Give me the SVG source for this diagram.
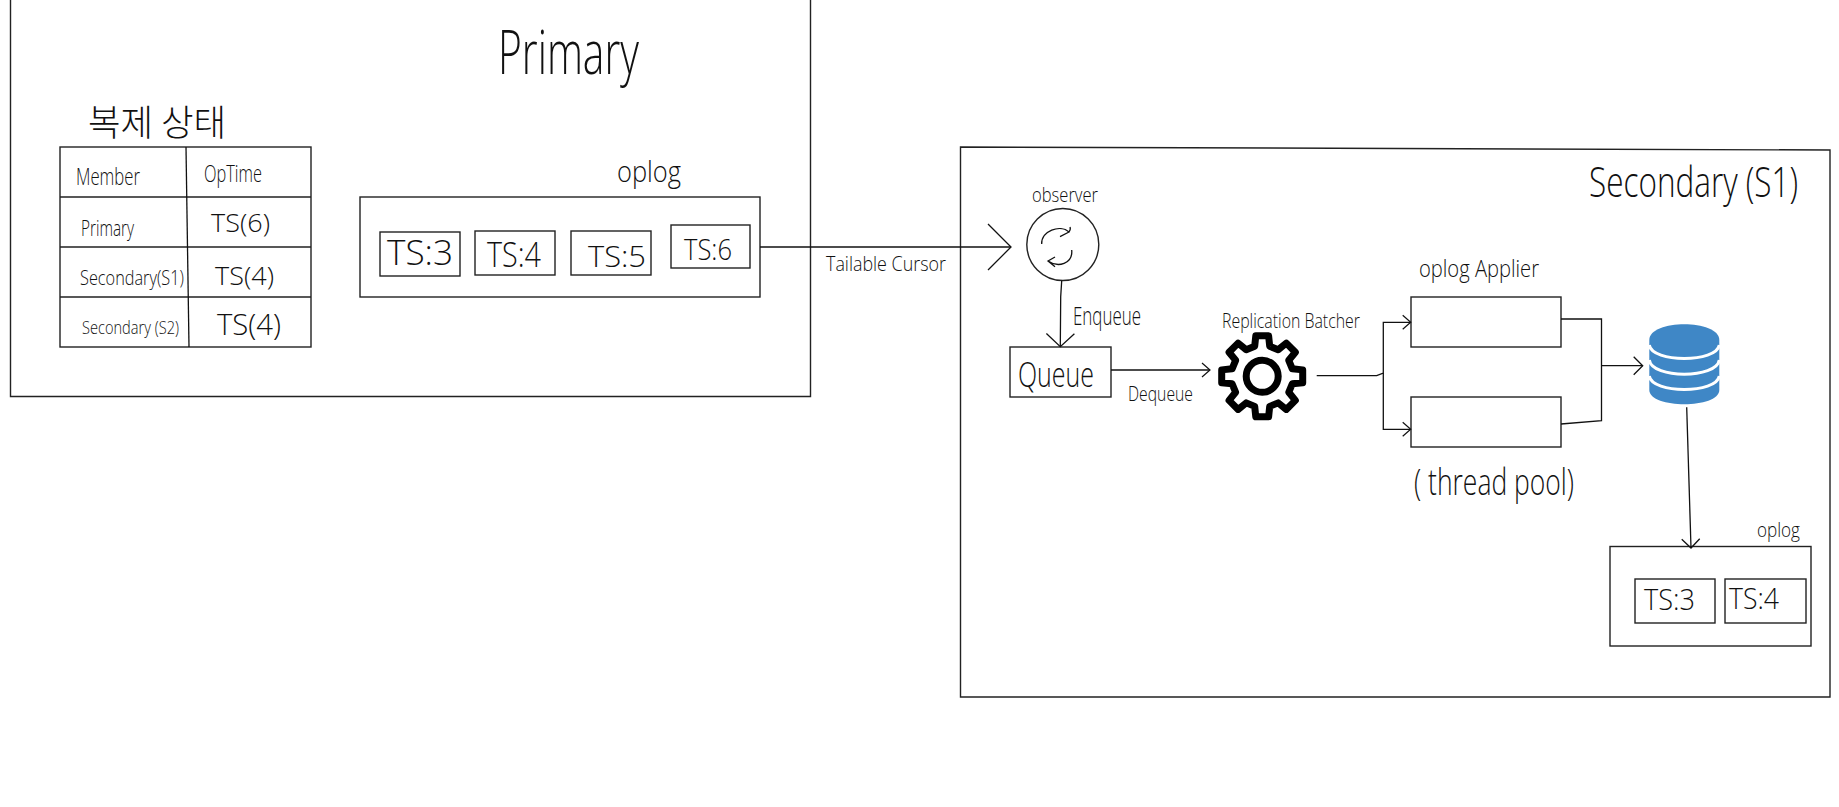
<svg xmlns="http://www.w3.org/2000/svg" width="1839" height="807" viewBox="0 0 1839 807">
<style>
.box{fill:none;stroke:#222;stroke-width:1.4}
.fillbox{fill:#fff;stroke:#222;stroke-width:1.4}
.ln{fill:none;stroke:#111;stroke-width:1.3}
text{font-family:"Open Sans","Noto Sans CJK KR",sans-serif;font-weight:300;fill:#111}
.kr{font-family:"Noto Sans CJK KR",sans-serif;font-weight:300}
</style>
<defs>
<marker id="lg" markerUnits="userSpaceOnUse" markerWidth="26" markerHeight="50" refX="24" refY="24" orient="auto"><path d="M1,1L24,24L1,47" fill="none" stroke="#111" stroke-width="1.3"/></marker>
<marker id="md" markerUnits="userSpaceOnUse" markerWidth="18" markerHeight="32" refX="15" refY="15" orient="auto"><path d="M2,1L15,15L2,29" fill="none" stroke="#111" stroke-width="1.3"/></marker>
<marker id="ms" markerUnits="userSpaceOnUse" markerWidth="14" markerHeight="22" refX="11" refY="10" orient="auto"><path d="M2,1L11,10L2,19" fill="none" stroke="#111" stroke-width="1.3"/></marker>
<marker id="sm" markerUnits="userSpaceOnUse" markerWidth="12" markerHeight="18" refX="10" refY="8" orient="auto"><path d="M2,1L10,8L2,15" fill="none" stroke="#111" stroke-width="1.2"/></marker>
</defs>

<g id="primary">
<path class="box" d="M10.5,-2V396.5H810.5V-2"/>
<text x="498" y="74" font-size="60" textLength="141" lengthAdjust="spacingAndGlyphs">Primary</text>
</g>

<g id="replication-table">
<text class="kr" x="88" y="136" font-size="36" textLength="138" lengthAdjust="spacingAndGlyphs">복제 상태</text>
<rect class="box" x="60" y="147" width="251" height="200"/>
<path class="box" d="M60,197H311M60,247H311M60,297H311"/>
<path class="ln" d="M186,147L189,347"/>
<text x="76" y="185" font-size="23" textLength="64" lengthAdjust="spacingAndGlyphs">Member</text>
<text x="204" y="182" font-size="24" textLength="58" lengthAdjust="spacingAndGlyphs">OpTime</text>
<text x="81" y="236" font-size="22" textLength="53" lengthAdjust="spacingAndGlyphs">Primary</text>
<text x="211" y="232" font-size="26" textLength="59" lengthAdjust="spacingAndGlyphs">TS(6)</text>
<text x="80" y="285" font-size="20" textLength="104" lengthAdjust="spacingAndGlyphs">Secondary(S1)</text>
<text x="215" y="285" font-size="26" textLength="59" lengthAdjust="spacingAndGlyphs">TS(4)</text>
<text x="82" y="334" font-size="19" textLength="97" lengthAdjust="spacingAndGlyphs">Secondary (S2)</text>
<text x="217" y="335" font-size="30" textLength="64" lengthAdjust="spacingAndGlyphs">TS(4)</text>
</g>

<g id="primary-oplog">
<text x="617" y="182" font-size="30" textLength="64" lengthAdjust="spacingAndGlyphs">oplog</text>
<rect class="box" x="360" y="197" width="400" height="100"/>
<rect class="box" x="380" y="232" width="80" height="44"/>
<rect class="box" x="475" y="231" width="80" height="44"/>
<rect class="box" x="571" y="231" width="80" height="44"/>
<rect class="box" x="671" y="225" width="79" height="43"/>
<text x="387" y="265" font-size="34" textLength="66" lengthAdjust="spacingAndGlyphs">TS:3</text>
<text x="487" y="267" font-size="34" textLength="54" lengthAdjust="spacingAndGlyphs">TS:4</text>
<text x="588" y="267" font-size="30" textLength="58" lengthAdjust="spacingAndGlyphs">TS:5</text>
<text x="684" y="260" font-size="30" textLength="48" lengthAdjust="spacingAndGlyphs">TS:6</text>
</g>

<g id="secondary">
<path class="box" d="M960.5,147L1830,150V697H960.5Z"/>
<text transform="translate(1589,197) scale(0.75,1)" font-size="42">Secondary (S1)</text>
</g>

<g id="observer">
<text x="1032" y="202" font-size="20" textLength="66" lengthAdjust="spacingAndGlyphs">observer</text>
<circle class="fillbox" cx="1062.8" cy="244.5" r="36"/>
<path class="ln" d="M1041.7,244C1041,231 1060,224 1069,232C1071,229 1070.5,228 1070,227M1069,232L1060,236.7"/>
<path class="ln" d="M1071.7,250C1073,264 1058,268 1048,261L1055,257M1048,261L1055,266.7"/>
</g>

<g id="queue">
<rect class="box" x="1010" y="347" width="101" height="50"/>
<text x="1018" y="387" font-size="34" textLength="76" lengthAdjust="spacingAndGlyphs">Queue</text>
</g>

<g id="batcher">
<text x="1222" y="328" font-size="20" textLength="138" lengthAdjust="spacingAndGlyphs">Replication Batcher</text>
<path transform="translate(1262.2,376.3)" d="M30.08,-7.5L40.5,-6.41L40.5,6.41L30.08,7.5L26.57,15.97L33.17,24.1L24.1,33.17L15.97,26.57L7.5,30.08L6.41,40.5L-6.41,40.5L-7.5,30.08L-15.97,26.57L-24.1,33.17L-33.17,24.1L-26.57,15.97L-30.08,7.5L-40.5,6.41L-40.5,-6.41L-30.08,-7.5L-26.57,-15.97L-33.17,-24.1L-24.1,-33.17L-15.97,-26.57L-7.5,-30.08L-6.41,-40.5L6.41,-40.5L7.5,-30.08L15.97,-26.57L24.1,-33.17L33.17,-24.1L26.57,-15.97Z" fill="#fff" stroke="#000" stroke-width="7" stroke-linejoin="round"/>
<circle cx="1262.2" cy="376.3" r="16" fill="#fff" stroke="#000" stroke-width="7"/>
</g>

<g id="applier">
<text x="1419" y="277" font-size="24" textLength="120" lengthAdjust="spacingAndGlyphs">oplog  Applier</text>
<rect class="box" x="1411" y="297" width="150" height="50"/>
<rect class="box" x="1411" y="397" width="150" height="50"/>
<text x="1414" y="495" font-size="36" textLength="160" lengthAdjust="spacingAndGlyphs">( thread pool)</text>
</g>

<g id="database">
<path d="M1649.3,340C1649.3,319 1719.3,319 1719.3,340V390C1719.3,409 1649.3,409 1649.3,390Z" fill="#3f87c6"/>
<path d="M1649.3,345C1652,363 1716.5,363 1719.3,345M1649.3,360C1652,379 1716.5,379 1719.3,360M1649.3,376C1652,394 1716.5,394 1719.3,376" fill="none" stroke="#fff" stroke-width="3"/>
</g>

<g id="secondary-oplog">
<text x="1757" y="537" font-size="21" textLength="43" lengthAdjust="spacingAndGlyphs">oplog</text>
<rect class="box" x="1610" y="546.5" width="201" height="99.5"/>
<rect class="box" x="1635" y="579" width="80" height="44"/>
<rect class="box" x="1725" y="579" width="81" height="44"/>
<text x="1644" y="610" font-size="29" textLength="51" lengthAdjust="spacingAndGlyphs">TS:3</text>
<text x="1729" y="609" font-size="29" textLength="50" lengthAdjust="spacingAndGlyphs">TS:4</text>
</g>

<g id="connectors">
<path class="ln" d="M760,247H1011" marker-end="url(#lg)"/>
<path class="ln" d="M1061.7,280.7L1060.7,296.7L1060.3,346.7" marker-end="url(#md)"/>
<path class="ln" d="M1111,370H1210" marker-end="url(#sm)"/>
<path class="ln" d="M1316.7,375.7H1376.7L1383.3,373V322.3H1410.7" marker-end="url(#sm)"/>
<path class="ln" d="M1383.3,373V429.3H1410.7" marker-end="url(#sm)"/>
<path class="ln" d="M1561,319H1601.5V420.7L1561,424"/>
<path class="ln" d="M1601.5,365.7H1642.7" marker-end="url(#ms)"/>
<path class="ln" d="M1686.7,407.3L1691,548" marker-end="url(#ms)"/>
<text x="826" y="271" font-size="20" textLength="120" lengthAdjust="spacingAndGlyphs">Tailable Cursor</text>
<text x="1073" y="325" font-size="25" textLength="68" lengthAdjust="spacingAndGlyphs">Enqueue</text>
<text x="1128" y="401" font-size="21" textLength="65" lengthAdjust="spacingAndGlyphs">Dequeue</text>
</g>
</svg>
